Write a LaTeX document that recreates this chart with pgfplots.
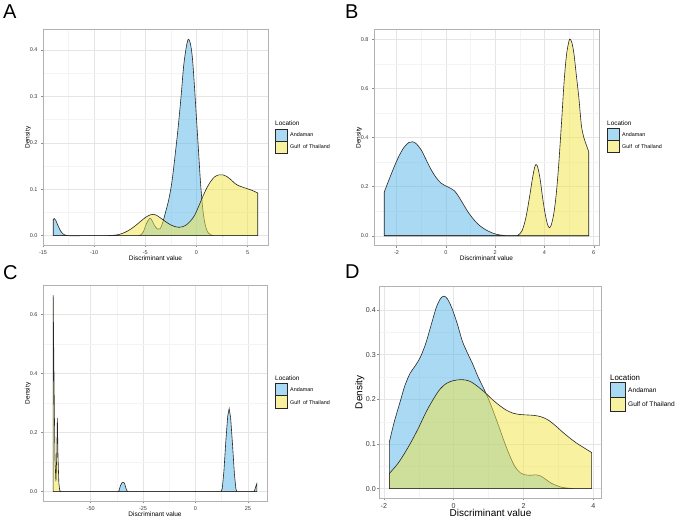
\documentclass[border=0pt]{standalone}
\usepackage{pgfplots}
\pgfplotsset{compat=1.18}
\usepackage{fontspec}
\setmainfont{Liberation Sans}

\definecolor{andaman}{HTML}{56B4E9}
\definecolor{gulf}{HTML}{F0E442}
\definecolor{gridmaj}{HTML}{E5E5E5}
\definecolor{gridmin}{HTML}{F4F4F4}
\definecolor{tickc}{HTML}{3A3A3A}

\pgfplotsset{
  dens/.style={
    scale only axis, anchor=south west,
    axis line style={draw=black!30, line width=0.7pt},
    grid=both,
    major grid style={draw=gridmaj, line width=0.5pt},
    minor grid style={draw=gridmin, line width=0.3pt},
    minor x tick num=1, minor y tick num=1,
    tick align=outside, tick pos=left,
    major tick length=2pt, minor tick length=0pt,
    tick style={draw=black!45, line width=0.4pt},
    ticklabel style={text=tickc},
    /pgf/number format/assume math mode=true,
    yticklabel style={/pgf/number format/fixed, /pgf/number format/fixed zerofill, /pgf/number format/precision=1},
    every axis x label/.style={at={(axis description cs:0.5,0)}, yshift=-12.5pt, anchor=center},
    every axis y label/.style={at={(axis description cs:0,0.5)}, xshift=-15pt, rotate=90, anchor=center},
    xlabel={Discriminant value}, ylabel={Density},
  },
  small/.style={
    tick label style={font=\fontsize{5.5}{6.5}\selectfont},
    label style={font=\fontsize{6.5}{7.5}\selectfont},
  },
  big/.style={
    tick label style={font=\fontsize{7.1}{8}\selectfont},
    yticklabel style={/tikz/xshift=2pt},
    label style={font=\fontsize{8.6}{10}\selectfont},
    every axis x label/.style={at={(axis description cs:0.5,0)}, yshift=-15pt, anchor=center},
    every axis y label/.style={at={(axis description cs:0,0.5)}, xshift=-19.5pt, rotate=90, anchor=center},
  },
  fa/.style={draw=black!85, line width=0.6pt, fill=andaman, fill opacity=0.5, draw opacity=1},
  fg/.style={draw=black!85, line width=0.6pt, fill=gulf, fill opacity=0.5, draw opacity=1},
}

\newcommand{\lockey}[5]{% x, ytop, w, h, fontsize
  \node[anchor=west, inner sep=0pt, font=\fontsize{#5}{#5}\selectfont] at (#1pt,{#2pt+5.5pt}) {Location};
  \draw[black!85, line width=0.6pt, fill=andaman, fill opacity=0.5, draw opacity=1] (#1pt,#2pt) rectangle ({#1pt+#3pt},{#2pt-#4pt});
  \draw[black!85, line width=0.6pt, fill=gulf, fill opacity=0.5, draw opacity=1] (#1pt,{#2pt-#4pt}) rectangle ({#1pt+#3pt},{#2pt-2*#4pt});
}

\begin{document}
\begin{tikzpicture}
\useasboundingbox (0,0) rectangle (675pt,518pt);

% ---------- A ----------
\begin{axis}[dens, small, at={(43pt,272.5pt)}, width=225pt, height=216pt,
  xmin=-15, xmax=7, ymin=-0.02115, ymax=0.44415,
  xtick={-15,-10,-5,0,5}, ytick={0,0.1,0.2,0.3,0.4}]
\addplot[fa, smooth, tension=0.5] coordinates {
(-14,0.035) (-13.9,0.037) (-13.75,0.033) (-13.5,0.02) (-13.25,0.009) (-13,0.003)
(-12.5,0) (-11,0) (-9,0) (-7,0) (-6,0) (-5.5,0.001) (-5.2,0.008) (-4.9,0.025)
(-4.6,0.037) (-4.4,0.035) (-4.1,0.022) (-3.8,0.014) (-3.55,0.015) (-3.3,0.028)
(-3.0,0.052) (-2.7,0.078) (-2.4,0.115) (-2.1,0.17) (-1.8,0.23) (-1.5,0.3)
(-1.25,0.365) (-1.0,0.405) (-0.8,0.423) (-0.6,0.415) (-0.4,0.385) (-0.2,0.325)
(0,0.255) (0.2,0.185) (0.4,0.115) (0.6,0.062) (0.8,0.03) (1.0,0.013) (1.2,0.005)
(1.5,0.001) (2,0) (4,0) (6,0)} \closedcycle;
\addplot[fg, smooth, tension=0.5] coordinates {
(-14,0) (-12,0) (-10,0) (-9,0) (-8,0.001) (-7.5,0.003) (-7,0.007) (-6.5,0.013)
(-6,0.021) (-5.5,0.03) (-5,0.039) (-4.5,0.045) (-4.2,0.046) (-3.9,0.044)
(-3.5,0.038) (-3,0.03) (-2.5,0.023) (-2,0.019) (-1.7,0.018) (-1.4,0.019)
(-1,0.023) (-0.6,0.031) (-0.2,0.043) (0.2,0.062) (0.6,0.083) (1.0,0.102)
(1.4,0.117) (1.8,0.127) (2.2,0.131) (2.6,0.131) (3.0,0.127) (3.4,0.12)
(3.8,0.112) (4.2,0.107) (4.6,0.104) (5.0,0.101) (5.4,0.098) (5.8,0.094) (6,0.092)} \closedcycle;
\end{axis}

% ---------- B ----------
\begin{axis}[dens, small, at={(374pt,272.4pt)}, width=225pt, height=216pt,
  xmin=-2.915, xmax=6.215, ymin=-0.04, ymax=0.84,
  xtick={-2,0,2,4,6}, ytick={0,0.2,0.4,0.6,0.8}]
\addplot[fa, smooth, tension=0.5] coordinates {
(-2.5,0.178) (-2.3,0.23) (-2.1,0.28) (-1.9,0.325) (-1.7,0.36) (-1.5,0.38)
(-1.35,0.383) (-1.2,0.375) (-1.0,0.35) (-0.8,0.31) (-0.6,0.27) (-0.4,0.238)
(-0.2,0.215) (0,0.203) (0.2,0.193) (0.35,0.183) (0.5,0.163) (0.7,0.13)
(0.9,0.097) (1.1,0.07) (1.3,0.048) (1.5,0.032) (1.7,0.02) (1.9,0.011)
(2.1,0.005) (2.3,0.002) (2.6,0) (3.5,0) (4.5,0) (5.8,0)} \closedcycle;
\addplot[fg, smooth, tension=0.5] coordinates {
(-2.5,0) (-1,0) (0.5,0) (2,0) (2.8,0) (2.95,0.004) (3.1,0.022) (3.25,0.075)
(3.4,0.16) (3.5,0.225) (3.6,0.278) (3.66,0.29) (3.72,0.282) (3.82,0.235)
(3.92,0.16) (4.02,0.095) (4.12,0.048) (4.2,0.033) (4.28,0.045) (4.38,0.09)
(4.48,0.17) (4.58,0.29) (4.7,0.47) (4.8,0.63) (4.9,0.74) (5.0,0.795) (5.05,0.8)
(5.12,0.785) (5.2,0.74) (5.3,0.65) (5.4,0.56) (5.5,0.45) (5.6,0.4) (5.7,0.37)
(5.8,0.342)} \closedcycle;
\end{axis}

% ---------- C ----------
\begin{axis}[dens, small, at={(43pt,16.5pt)}, width=224pt, height=216.3pt,
  xmin=-72.76, xmax=34.16, ymin=-0.03325, ymax=0.69825,
  xtick={-50,-25,0,25}, ytick={0,0.2,0.4,0.6}]
\addplot[fa] coordinates {
(-67.9,0) (-37,0) (-36.5,0.003) (-35.8,0.02) (-35,0.031) (-34.5,0.032)
(-33.8,0.028) (-33.2,0.012) (-32.5,0.001) (-32,0) (12.2,0) (12.8,0.01)
(13.6,0.07) (14.5,0.17) (15.4,0.255) (16.1,0.281) (16.8,0.25) (17.7,0.16)
(18.6,0.06) (19.3,0.01) (19.8,0) (27.9,0) (28.4,0.008) (28.9,0.02) (29.3,0.027)} \closedcycle;
\addplot[fg] coordinates {
(-67.9,0.665) (-67.6,0.45) (-67.3,0.25) (-67.0,0.1) (-66.6,0.035) (-66.2,0.12)
(-65.9,0.249) (-65.6,0.12) (-65.2,0.03) (-64.8,0.005) (-64.3,0) (0,0) (29.3,0)} \closedcycle;
\end{axis}

% ---------- D ----------
\begin{axis}[dens, big, at={(379.3pt,19.7pt)}, width=222.4pt, height=211.8pt,
  xmin=-2.1295, xmax=4.2395, ymin=-0.02155, ymax=0.45255,
  xtick={-2,0,2,4}, ytick={0,0.1,0.2,0.3,0.4}]
\addplot[fa, smooth, tension=0.5] coordinates {
(-1.84,0.105) (-1.7,0.15) (-1.55,0.19) (-1.4,0.23) (-1.25,0.258) (-1.1,0.275)
(-0.95,0.295) (-0.8,0.325) (-0.65,0.365) (-0.5,0.405) (-0.38,0.425) (-0.28,0.431)
(-0.18,0.425) (-0.05,0.404) (0.1,0.37) (0.25,0.33) (0.4,0.303) (0.55,0.278)
(0.7,0.25) (0.85,0.226) (1.0,0.2) (1.15,0.17) (1.3,0.138) (1.45,0.105) (1.6,0.075)
(1.75,0.05) (1.9,0.036) (2.05,0.031) (2.2,0.03) (2.35,0.031) (2.5,0.028)
(2.65,0.02) (2.8,0.012) (2.95,0.007) (3.1,0.003) (3.3,0.001) (3.5,0) (3.95,0)} \closedcycle;
\addplot[fg, smooth, tension=0.5] coordinates {
(-1.84,0.034) (-1.6,0.056) (-1.4,0.08) (-1.2,0.107) (-1.0,0.137) (-0.8,0.17)
(-0.6,0.198) (-0.4,0.222) (-0.2,0.236) (0,0.242) (0.2,0.244) (0.35,0.243)
(0.5,0.239) (0.7,0.228) (0.9,0.215) (1.1,0.2) (1.3,0.187) (1.5,0.176) (1.7,0.169)
(1.9,0.166) (2.1,0.165) (2.3,0.164) (2.5,0.161) (2.7,0.154) (2.9,0.142)
(3.1,0.128) (3.3,0.115) (3.5,0.103) (3.7,0.093) (3.95,0.081)} \closedcycle;
\end{axis}

% ---------- legends ----------
\lockey{275}{389}{12.3}{12}{6.4}
\node[anchor=west, inner sep=0pt, font=\fontsize{5.4}{6}\selectfont] at (290pt,383pt) {Andaman};
\node[anchor=west, inner sep=0pt, font=\fontsize{5.4}{6}\selectfont] at (290pt,371pt) {Gulf\ \ of Thailand};

\lockey{607}{389.7}{12}{12}{6.4}
\node[anchor=west, inner sep=0pt, font=\fontsize{5.4}{6}\selectfont] at (622pt,383.7pt) {Andaman};
\node[anchor=west, inner sep=0pt, font=\fontsize{5.4}{6}\selectfont] at (622pt,371.7pt) {Gulf\ \ of Thailand};

\lockey{275}{134.7}{12.3}{12.5}{6.4}
\node[anchor=west, inner sep=0pt, font=\fontsize{5.4}{6}\selectfont] at (290pt,128.4pt) {Andaman};
\node[anchor=west, inner sep=0pt, font=\fontsize{5.4}{6}\selectfont] at (290pt,115.9pt) {Gulf\ \ of Thailand};

\lockey{610}{135.3}{15}{14.5}{7.9}
\node[anchor=west, inner sep=0pt, font=\fontsize{6.6}{7}\selectfont] at (628pt,128pt) {Andaman};
\node[anchor=west, inner sep=0pt, font=\fontsize{6.6}{7}\selectfont] at (628pt,113.5pt) {Gulf of Thailand};

% ---------- panel letters ----------
\node[anchor=base west, inner sep=0pt, font=\fontsize{20}{22}\selectfont] at (3pt,499.7pt) {A};
\node[anchor=base west, inner sep=0pt, font=\fontsize{20}{22}\selectfont] at (345pt,499.7pt) {B};
\node[anchor=base west, inner sep=0pt, font=\fontsize{20}{22}\selectfont] at (3pt,238pt) {C};
\node[anchor=base west, inner sep=0pt, font=\fontsize{20}{22}\selectfont] at (345pt,239.7pt) {D};
\end{tikzpicture}
\end{document}
